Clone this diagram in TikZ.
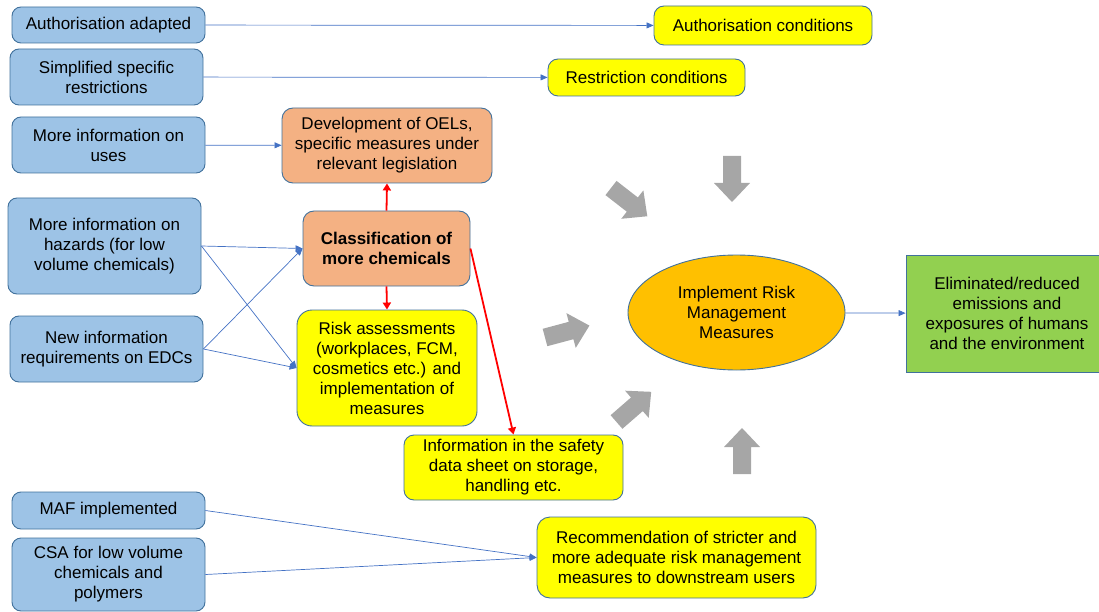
\documentclass[tikz,border=0pt]{standalone}
\usepackage{fontspec}
\setmainfont{Liberation Sans}
\usetikzlibrary{arrows.meta,shapes.geometric}

\definecolor{boxblue}{HTML}{9DC3E6}
\definecolor{edgeblue}{HTML}{41719C}
\definecolor{lineblue}{HTML}{4472C4}
\definecolor{boxyellow}{HTML}{FFFF00}
\definecolor{boxorange}{HTML}{F4B183}
\definecolor{ellgold}{HTML}{FFC000}
\definecolor{boxgreen}{HTML}{92D050}
\definecolor{arrowgrey}{HTML}{A6A6A6}
\definecolor{linkred}{HTML}{FF0000}

\tikzset{
  base/.style={draw=edgeblue, line width=0.9pt, align=center, inner sep=2pt,
    font=\fontsize{17}{20}\selectfont, text=black},
  inbox/.style={base, fill=boxblue, rounded corners=9pt},
  yellowbox/.style={base, fill=boxyellow, rounded corners=10pt},
  orangebox/.style={base, fill=boxorange, rounded corners=11pt},
  greenbox/.style={base, fill=boxgreen},
  goalellipse/.style={base, ellipse, fill=ellgold, inner sep=0pt},
  bluelink/.style={draw=lineblue, line width=0.7pt,
    -{Triangle[length=7pt,width=6pt]}},
  redlink/.style={draw=linkred, line width=1.8pt,
    -{Triangle[length=7pt,width=8pt]}},
  grey arrow/.pic={
    \fill[arrowgrey] (0,-9) -- (27,-9) -- (27,-18) -- (46,0) -- (27,18)
      -- (27,9) -- (0,9) -- cycle;
  }
}

\begin{document}
\begin{tikzpicture}[x=1pt, y=-1pt]
  \useasboundingbox (0,0) rectangle (1099,612);
  \clip (0,0) rectangle (1099,612);

  % inputs on the left
  \node[inbox, minimum width=193pt, minimum height=36pt] (auA) at (108.5,25) {Authorisation adapted};
  \node[inbox, minimum width=193pt, minimum height=56pt] (simp) at (106.5,77) {Simplified specific\\restrictions};
  \node[inbox, minimum width=193pt, minimum height=56pt] (uses) at (108.5,145) {More information on\\uses};
  \node[inbox, minimum width=193pt, minimum height=96pt] (haz) at (104.5,246) {More information on\\hazards (for low\\volume chemicals)};
  \node[inbox, minimum width=193pt, minimum height=66pt] (edc) at (106.5,349) {New information\\requirements on EDCs};
  \node[inbox, minimum width=193pt, minimum height=37pt] (maf) at (108.5,510.5) {MAF implemented};
  \node[inbox, minimum width=193pt, minimum height=73pt] (csa) at (108.5,574.5) {CSA for low volume\\chemicals and\\polymers};

  % intermediate measures
  \node[yellowbox, minimum width=218pt, minimum height=39pt] (authc) at (763,25.5) {Authorisation conditions};
  \node[yellowbox, minimum width=197pt, minimum height=37pt] (restc) at (646.5,77.5) {Restriction conditions};
  \node[orangebox, minimum width=210pt, minimum height=75pt] (oel) at (387,145.5) {Development of OELs,\\specific measures under\\relevant legislation};
  \node[orangebox, minimum width=167pt, minimum height=75pt, font=\fontsize{17}{20}\selectfont\bfseries] (cls) at (386.5,248.5) {Classification of\\more chemicals};
  \node[yellowbox, rounded corners=15pt, minimum width=180pt, minimum height=116pt] (risk) at (387,368) {Risk assessments\\(workplaces, FCM,\\cosmetics etc.) and\\implementation of\\measures};
  \node[yellowbox, minimum width=219pt, minimum height=65pt] (sds) at (513.5,467.5) {Information in the safety\\data sheet on storage,\\handling etc.};
  \node[yellowbox, rounded corners=13pt, minimum width=279pt, minimum height=81pt] (rec) at (676.5,557.5) {Recommendation of stricter and\\more adequate risk management\\measures to downstream users};

  % central goal and outcome
  \node[goalellipse, minimum width=217pt, minimum height=115pt] (irm) at (736.5,312.5) {Implement Risk\\Management\\Measures};
  \node[greenbox, minimum width=202pt, minimum height=117pt] (out) at (1007,313.5) {Eliminated/reduced\\emissions and\\exposures of humans\\and the environment};

  % blue links
  \draw[bluelink] (auA) -- (authc);
  \draw[bluelink] (simp) -- (restc);
  \draw[bluelink] (uses) -- (oel);
  \draw[bluelink] (haz.east) -- (cls.west);
  \draw[bluelink] (haz.east) -- (risk.west);
  \draw[bluelink] (edc.east) -- (cls.west);
  \draw[bluelink] (edc.east) -- (risk.west);
  \draw[bluelink] (maf.east) -- (rec.west);
  \draw[bluelink] (csa.east) -- (rec.west);
  \draw[bluelink] (irm) -- (out);

  % red links from classification
  \draw[redlink] (cls.north) -- (oel.south);
  \draw[redlink] (cls.south) -- (risk.north);
  \draw[redlink] (cls.east) -- (sds.north);

  % grey block arrows converging on the ellipse
  \pic[rotate=-90] at (732,156) {grey arrow};
  \pic[rotate=-37.9] at (611,188) {grey arrow};
  \pic[rotate=15] at (545,337.5) {grey arrow};
  \pic[rotate=41] at (616.5,422) {grey arrow};
  \pic[rotate=90] at (742,474) {grey arrow};
\end{tikzpicture}
\end{document}
